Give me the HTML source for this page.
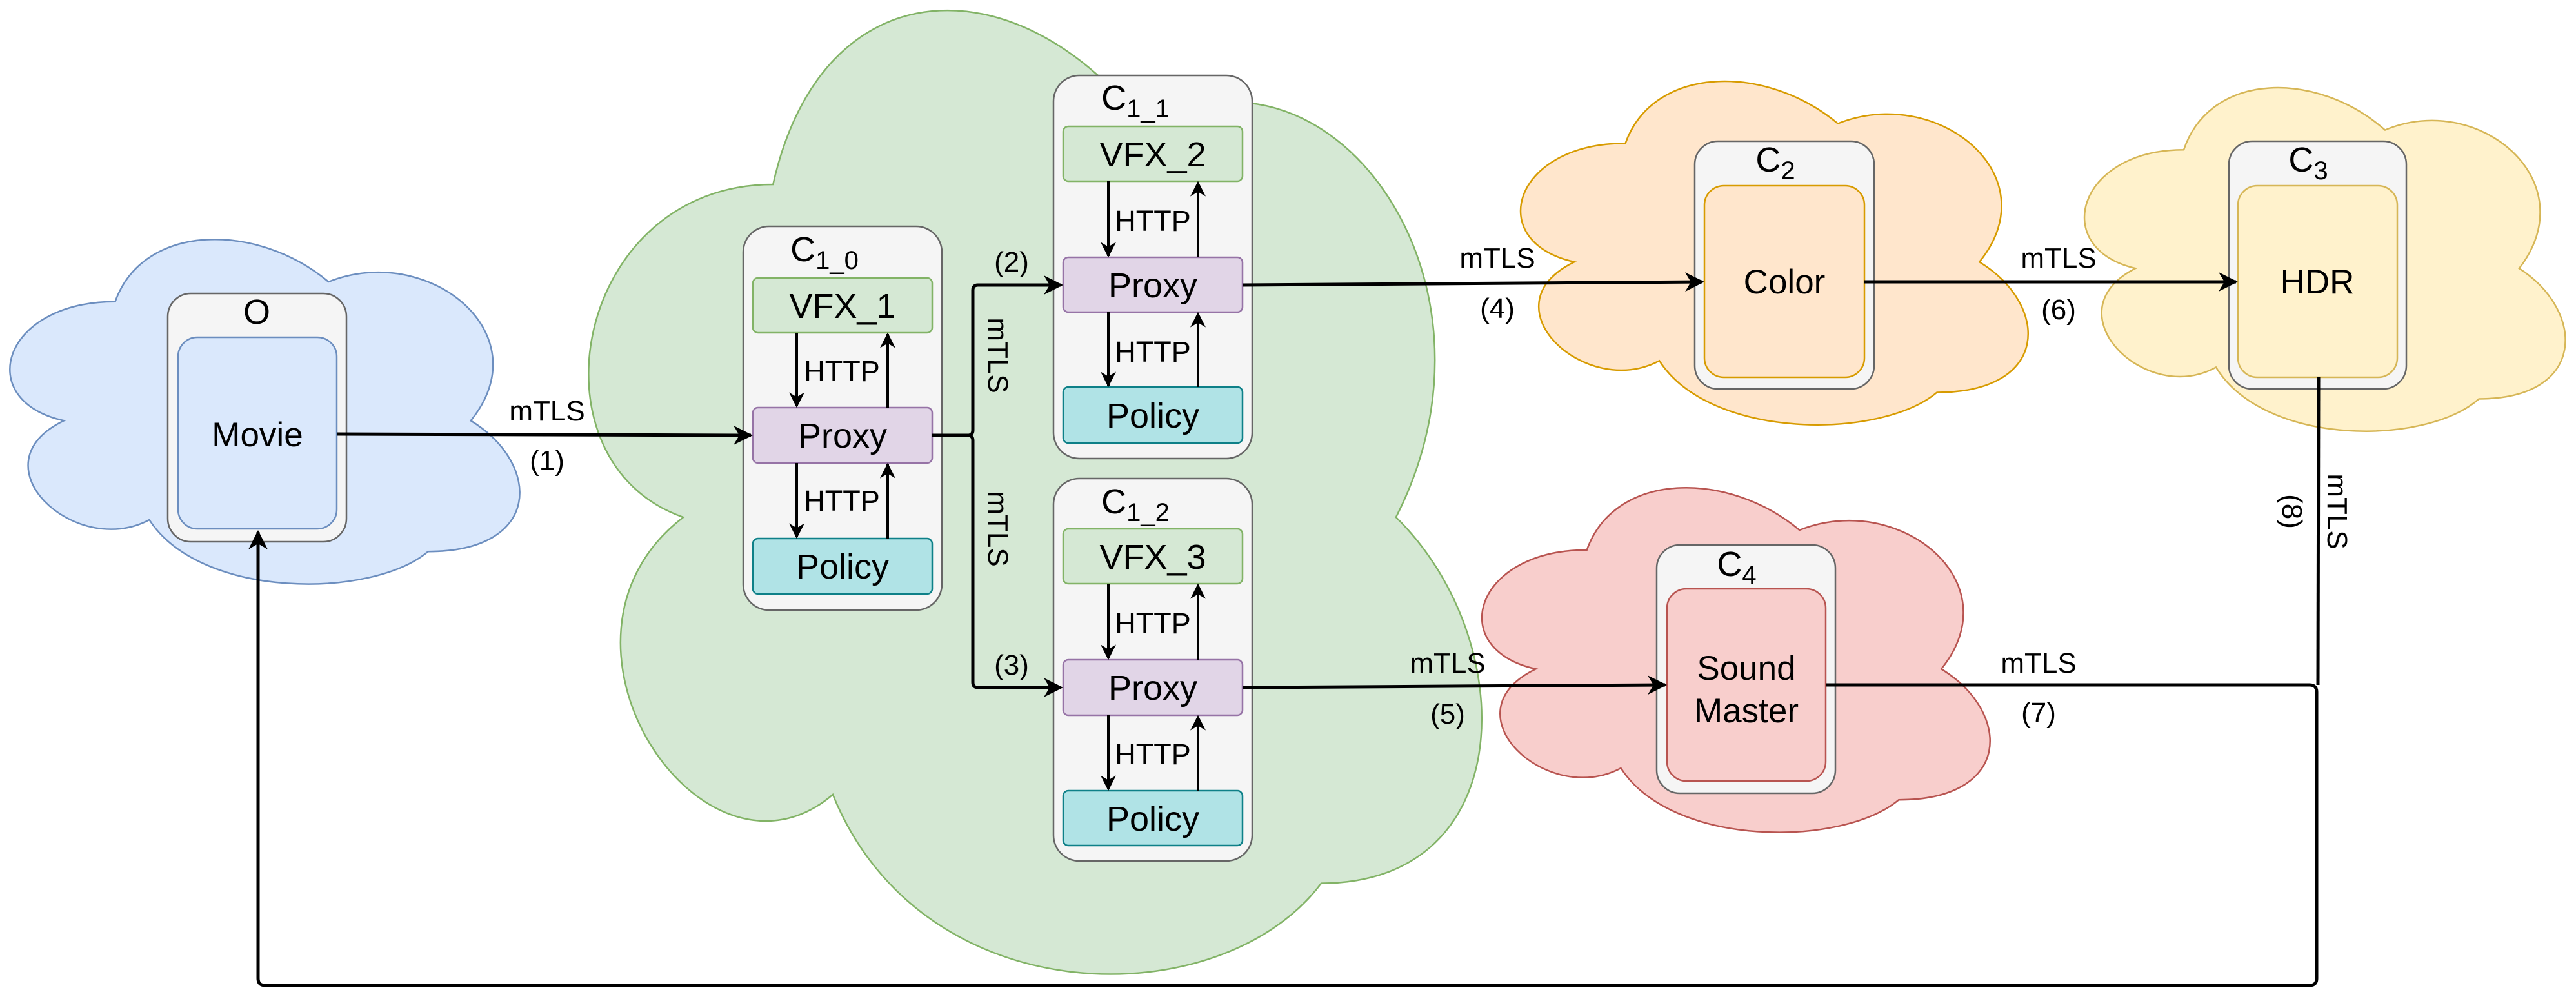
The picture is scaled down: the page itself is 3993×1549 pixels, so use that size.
<!DOCTYPE html>
<html><head><meta charset="utf-8"><style>
html,body{margin:0;padding:0;background:#fff;}
svg{display:block;}
text{font-family:"Liberation Sans",Arial,sans-serif;fill:#000;}
.cl{vector-effect:non-scaling-stroke;stroke-width:2.5;}
</style></head><body>
<svg width="3993" height="1549" viewBox="0 0 3993 1549" xmlns="http://www.w3.org/2000/svg">
<defs>
<marker id="a" viewBox="0 0 10 10" refX="9" refY="5" markerWidth="6" markerHeight="6" orient="auto">
<path d="M0,0 L10,5 L0,10 L3,5 Z" fill="#000"/>
</marker>
</defs>

<!-- clouds -->
<g transform="translate(-42,314) scale(882,615)"><path class="cl" vector-effect="non-scaling-stroke" d="M0.25,0.25 C0.05,0.25 0,0.5 0.16,0.55 C0,0.66 0.18,0.9 0.31,0.8 C0.4,1 0.7,1 0.8,0.88 C1,0.88 1,0.66 0.875,0.55 C1,0.33 0.8,0.1 0.625,0.2 C0.5,0.05 0.3,0.05 0.25,0.25 Z" fill="#dae8fc" stroke="#6c8ebf"/></g>
<g transform="translate(812,-144) scale(1545,1720)"><path class="cl" vector-effect="non-scaling-stroke" d="M0.25,0.25 C0.05,0.25 0,0.5 0.16,0.55 C0,0.66 0.18,0.9 0.31,0.8 C0.4,1 0.7,1 0.8,0.88 C1,0.88 1,0.66 0.875,0.55 C1,0.33 0.8,0.1 0.625,0.2 C0.5,0.05 0.3,0.05 0.25,0.25 Z" fill="#d5e8d4" stroke="#82b366"/></g>
<g transform="translate(2300,69) scale(878,613)"><path class="cl" vector-effect="non-scaling-stroke" d="M0.25,0.25 C0.05,0.25 0,0.5 0.16,0.55 C0,0.66 0.18,0.9 0.31,0.8 C0.4,1 0.7,1 0.8,0.88 C1,0.88 1,0.66 0.875,0.55 C1,0.33 0.8,0.1 0.625,0.2 C0.5,0.05 0.3,0.05 0.25,0.25 Z" fill="#ffe6cc" stroke="#d79b00"/></g>
<g transform="translate(3177,79) scale(832,613)"><path class="cl" vector-effect="non-scaling-stroke" d="M0.25,0.25 C0.05,0.25 0,0.5 0.16,0.55 C0,0.66 0.18,0.9 0.31,0.8 C0.4,1 0.7,1 0.8,0.88 C1,0.88 1,0.66 0.875,0.55 C1,0.33 0.8,0.1 0.625,0.2 C0.5,0.05 0.3,0.05 0.25,0.25 Z" fill="#fff2cc" stroke="#d6b656"/></g>
<g transform="translate(2240,699) scale(879,615)"><path class="cl" vector-effect="non-scaling-stroke" d="M0.25,0.25 C0.05,0.25 0,0.5 0.16,0.55 C0,0.66 0.18,0.9 0.31,0.8 C0.4,1 0.7,1 0.8,0.88 C1,0.88 1,0.66 0.875,0.55 C1,0.33 0.8,0.1 0.625,0.2 C0.5,0.05 0.3,0.05 0.25,0.25 Z" fill="#f8cecc" stroke="#b85450"/></g>

<!-- O -->
<rect x="260" y="455" width="277" height="385" rx="36" fill="#f5f5f5" stroke="#666" stroke-width="2.5"/>
<rect x="276" y="523" width="246" height="297" rx="30" fill="#dae8fc" stroke="#6c8ebf" stroke-width="2.5"/>
<text x="398" y="502" font-size="54" text-anchor="middle">O</text>
<text x="399" y="692" font-size="53" text-anchor="middle">Movie</text>

<!-- C2 -->
<rect x="2627" y="219" width="278" height="384" rx="36" fill="#f5f5f5" stroke="#666" stroke-width="2.5"/>
<rect x="2642" y="288" width="248" height="297" rx="30" fill="#ffe6cc" stroke="#d79b00" stroke-width="2.5"/>
<text x="2752" y="266" font-size="54" text-anchor="middle">C<tspan font-size="40" dy="12">2</tspan></text>
<text x="2766" y="455" font-size="53" text-anchor="middle">Color</text>

<!-- C3 -->
<rect x="3455" y="219" width="275" height="384" rx="36" fill="#f5f5f5" stroke="#666" stroke-width="2.5"/>
<rect x="3469" y="288" width="247" height="297" rx="30" fill="#fff2cc" stroke="#d6b656" stroke-width="2.5"/>
<text x="3578" y="266" font-size="54" text-anchor="middle">C<tspan font-size="40" dy="12">3</tspan></text>
<text x="3592" y="455" font-size="53" text-anchor="middle">HDR</text>

<!-- C4 -->
<rect x="2568" y="845" width="277" height="385" rx="36" fill="#f5f5f5" stroke="#666" stroke-width="2.5"/>
<rect x="2584" y="913" width="246" height="298" rx="30" fill="#f8cecc" stroke="#b85450" stroke-width="2.5"/>
<text x="2692" y="893" font-size="54" text-anchor="middle">C<tspan font-size="40" dy="12">4</tspan></text>
<text x="2707" y="1054" font-size="53" text-anchor="middle">Sound</text>
<text x="2707" y="1120" font-size="53" text-anchor="middle">Master</text>

<!-- C1_0 -->
<rect x="1152" y="351" width="308" height="595" rx="40" fill="#f5f5f5" stroke="#666" stroke-width="2.5"/>
<text x="1278" y="405" font-size="54" text-anchor="middle">C<tspan font-size="40" dy="12">1_0</tspan></text>
<rect x="1167" y="431" width="278" height="85" rx="8" fill="#d5e8d4" stroke="#82b366" stroke-width="2.5"/>
<rect x="1167" y="632" width="278" height="86" rx="8" fill="#e1d5e7" stroke="#9673a6" stroke-width="2.5"/>
<rect x="1167" y="835" width="278" height="86" rx="8" fill="#b0e3e6" stroke="#0e8088" stroke-width="2.5"/>
<text x="1306" y="493" font-size="54" text-anchor="middle">VFX_1</text>
<text x="1306" y="694" font-size="54" text-anchor="middle">Proxy</text>
<text x="1306" y="897" font-size="54" text-anchor="middle">Policy</text>
<text x="1305" y="591" font-size="45" text-anchor="middle">HTTP</text>
<text x="1305" y="792" font-size="45" text-anchor="middle">HTTP</text>
<g stroke="#000" stroke-width="4" fill="none" marker-end="url(#a)">
<line x1="1235" y1="516" x2="1235" y2="630"/>
<line x1="1376" y1="632" x2="1376" y2="518"/>
<line x1="1235" y1="718" x2="1235" y2="833"/>
<line x1="1376" y1="835" x2="1376" y2="720"/>
</g>

<!-- C1_1 -->
<rect x="1633" y="117" width="308" height="594" rx="40" fill="#f5f5f5" stroke="#666" stroke-width="2.5"/>
<text x="1760" y="170" font-size="54" text-anchor="middle">C<tspan font-size="40" dy="12">1_1</tspan></text>
<rect x="1648" y="196" width="278" height="85" rx="8" fill="#d5e8d4" stroke="#82b366" stroke-width="2.5"/>
<rect x="1648" y="399" width="278" height="85" rx="8" fill="#e1d5e7" stroke="#9673a6" stroke-width="2.5"/>
<rect x="1648" y="600" width="278" height="87" rx="8" fill="#b0e3e6" stroke="#0e8088" stroke-width="2.5"/>
<text x="1787" y="258" font-size="54" text-anchor="middle">VFX_2</text>
<text x="1787" y="461" font-size="54" text-anchor="middle">Proxy</text>
<text x="1787" y="663" font-size="54" text-anchor="middle">Policy</text>
<text x="1787" y="358" font-size="45" text-anchor="middle">HTTP</text>
<text x="1787" y="561" font-size="45" text-anchor="middle">HTTP</text>
<g stroke="#000" stroke-width="4" fill="none" marker-end="url(#a)">
<line x1="1718" y1="281" x2="1718" y2="397"/>
<line x1="1857" y1="399" x2="1857" y2="283"/>
<line x1="1718" y1="484" x2="1718" y2="598"/>
<line x1="1857" y1="600" x2="1857" y2="486"/>
</g>

<!-- C1_2 -->
<rect x="1633" y="742" width="308" height="593" rx="40" fill="#f5f5f5" stroke="#666" stroke-width="2.5"/>
<text x="1760" y="796" font-size="54" text-anchor="middle">C<tspan font-size="40" dy="12">1_2</tspan></text>
<rect x="1648" y="820" width="278" height="85" rx="8" fill="#d5e8d4" stroke="#82b366" stroke-width="2.5"/>
<rect x="1648" y="1023" width="278" height="86" rx="8" fill="#e1d5e7" stroke="#9673a6" stroke-width="2.5"/>
<rect x="1648" y="1226" width="278" height="85" rx="8" fill="#b0e3e6" stroke="#0e8088" stroke-width="2.5"/>
<text x="1787" y="882" font-size="54" text-anchor="middle">VFX_3</text>
<text x="1787" y="1085" font-size="54" text-anchor="middle">Proxy</text>
<text x="1787" y="1288" font-size="54" text-anchor="middle">Policy</text>
<text x="1787" y="982" font-size="45" text-anchor="middle">HTTP</text>
<text x="1787" y="1185" font-size="45" text-anchor="middle">HTTP</text>
<g stroke="#000" stroke-width="4" fill="none" marker-end="url(#a)">
<line x1="1718" y1="905" x2="1718" y2="1021"/>
<line x1="1857" y1="1023" x2="1857" y2="907"/>
<line x1="1718" y1="1109" x2="1718" y2="1224"/>
<line x1="1857" y1="1226" x2="1857" y2="1111"/>
</g>

<!-- connectors -->
<g stroke="#000" stroke-width="5" fill="none" stroke-linejoin="round">
<path d="M522,673 L1164,675" marker-end="url(#a)"/>
<path d="M1445,675 L1500,675 Q1508,675 1508,667 L1508,450 Q1508,442 1516,442 L1645,442" marker-end="url(#a)"/>
<path d="M1500,675 Q1508,675 1508,683 L1508,1058 Q1508,1066 1516,1066 L1645,1066" marker-end="url(#a)"/>
<path d="M1926,442 L2639,437" marker-end="url(#a)"/>
<path d="M2890,437 L3466,437" marker-end="url(#a)"/>
<path d="M1926,1066 L2581,1062" marker-end="url(#a)"/>
<path d="M2830,1062 L3580,1062 Q3591,1062 3591,1073 L3591,1517 Q3591,1528 3580,1528 L411,1528 Q400,1528 400,1517 L400,825" marker-end="url(#a)"/>
<path d="M3594,585 L3593,1062"/>
</g>

<!-- labels -->
<g font-size="44" text-anchor="middle">
<text x="848" y="652">mTLS</text>
<text x="848" y="729">(1)</text>
<text x="1568" y="421">(2)</text>
<text x="1568" y="1046">(3)</text>
<text transform="translate(1532,551) rotate(90)">mTLS</text>
<text transform="translate(1532,820) rotate(90)">mTLS</text>
<text x="2321" y="415">mTLS</text>
<text x="2321" y="493">(4)</text>
<text x="3191" y="415">mTLS</text>
<text x="3191" y="495">(6)</text>
<text x="2244" y="1043">mTLS</text>
<text x="2244" y="1122">(5)</text>
<text x="3160" y="1043">mTLS</text>
<text x="3160" y="1120">(7)</text>
<text transform="translate(3608,793) rotate(90)">mTLS</text>
<text transform="translate(3538,793) rotate(90)">(8)</text>
</g>
</svg>
</body></html>
